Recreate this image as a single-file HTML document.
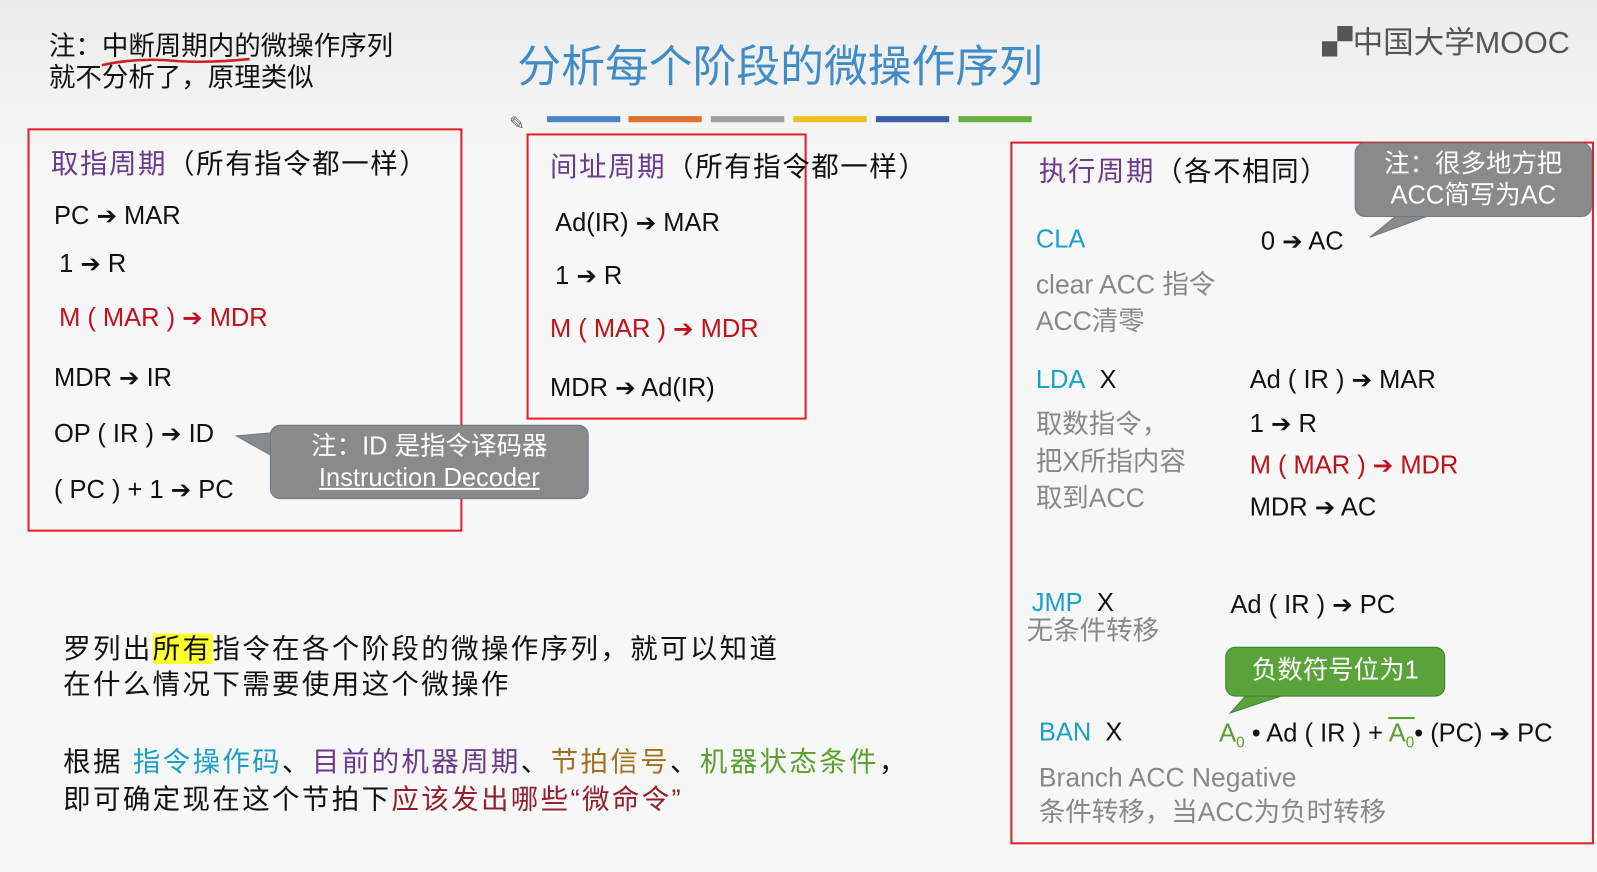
<!DOCTYPE html>
<html style="background:#f7f7f7"><head><meta charset="utf-8"><style>
body{margin:0;width:1597px;height:856px;overflow:hidden;background:linear-gradient(#ececec,#f7f7f7 20%,#f7f7f7);font-family:"Liberation Sans","Noto Sans CJK SC",sans-serif;position:relative;color:#111}
#w{position:absolute;left:0;top:0;width:1568px;height:840px;transform:scale(1.0185);transform-origin:0 0}
.a{position:absolute;white-space:nowrap;font-size:25px;line-height:1}
.box{position:absolute;border:2px solid #e0202a}
.red{color:#c0101a}.pur{color:#6a3a8c}.cy{color:#1aa0c8}.gr{color:#888}.grn{color:#5aa030}
.bar{position:absolute;top:114px;height:6px;width:72px}
.call{position:absolute;border-radius:10px;color:#fff;text-align:center;font-size:25px;line-height:31px}
.ar{font-family:"DejaVu Sans",sans-serif;font-size:24px}
.h{font-size:27px;letter-spacing:1.5px}
.b{font-size:27px;letter-spacing:2.3px}
</style></head><body><div id="w">
<div class="a" style="left:48px;top:32px;font-size:26px">注：中断周期内的微操作序列</div>
<div class="a" style="left:48px;top:63px;font-size:26px">就不分析了，原理类似</div>
<svg style="position:absolute;left:95px;top:52px" width="160" height="20"><path d="M5 12 Q40 4 80 8 Q110 10 150 6" stroke="#d02020" stroke-width="2.5" fill="none"/></svg>
<div class="a" style="left:508px;top:45px;font-size:43px;color:#3f8cc6">分析每个阶段的微操作序列</div>
<div class="a" style="left:1298px;top:28px;font-size:30px;color:#555">▞中国大学MOOC</div>
<div class="bar" style="left:537px;background:#4a86c6"></div>
<div class="bar" style="left:617px;background:#e07030"></div>
<div class="bar" style="left:698px;background:#a0a0a0"></div>
<div class="bar" style="left:779px;background:#f0c020"></div>
<div class="bar" style="left:860px;background:#3a5eaa"></div>
<div class="bar" style="left:941px;background:#6ab040"></div>
<div class="a" style="left:500px;top:112px;font-size:18px;color:#666">✎</div>

<div class="box" style="left:27px;top:126px;width:423px;height:392px"></div>
<div class="a h" style="left:50px;top:148px"><span class="pur">取指周期</span>（所有指令都一样）</div>
<div class="a" style="left:53px;top:200px">PC <span class="ar">➔</span> MAR</div>
<div class="a" style="left:58px;top:247px">1 <span class="ar">➔</span> R</div>
<div class="a red" style="left:58px;top:300px">M ( MAR ) <span class="ar">➔</span> MDR</div>
<div class="a" style="left:53px;top:359px">MDR <span class="ar">➔</span> IR</div>
<div class="a" style="left:53px;top:414px">OP ( IR ) <span class="ar">➔</span> ID</div>
<div class="a" style="left:53px;top:469px">( PC ) + 1 <span class="ar">➔</span> PC</div>

<div class="box" style="left:517px;top:131px;width:271px;height:277px"></div>
<div class="a h" style="left:540px;top:151px"><span class="pur">间址周期</span>（所有指令都一样）</div>
<div class="a" style="left:545px;top:207px">Ad(IR) <span class="ar">➔</span> MAR</div>
<div class="a" style="left:545px;top:259px">1 <span class="ar">➔</span> R</div>
<div class="a red" style="left:540px;top:311px">M ( MAR ) <span class="ar">➔</span> MDR</div>
<div class="a" style="left:540px;top:369px">MDR <span class="ar">➔</span> Ad(IR)</div>

<div class="box" style="left:992px;top:139px;width:569px;height:686px"></div>
<div class="a h" style="left:1020px;top:155px"><span class="pur">执行周期</span>（各不相同）</div>
<div class="a cy" style="left:1017px;top:223px">CLA</div>
<div class="a" style="left:1238px;top:225px">0 <span class="ar">➔</span> AC</div>
<div class="a gr" style="left:1017px;top:266px;font-size:26px">clear ACC 指令</div>
<div class="a gr" style="left:1017px;top:302px;font-size:26px">ACC清零</div>
<div class="a" style="left:1017px;top:361px"><span class="cy">LDA</span>&nbsp; X</div>
<div class="a" style="left:1227px;top:361px">Ad ( IR ) <span class="ar">➔</span> MAR</div>
<div class="a gr" style="left:1017px;top:403px;font-size:26px">取数指令，</div>
<div class="a" style="left:1227px;top:404px">1 <span class="ar">➔</span> R</div>
<div class="a gr" style="left:1017px;top:440px;font-size:26px">把X所指内容</div>
<div class="a red" style="left:1227px;top:445px">M ( MAR ) <span class="ar">➔</span> MDR</div>
<div class="a gr" style="left:1017px;top:476px;font-size:26px">取到ACC</div>
<div class="a" style="left:1227px;top:486px">MDR <span class="ar">➔</span> AC</div>
<div class="a" style="left:1013px;top:580px"><span class="cy">JMP</span>&nbsp; X</div>
<div class="a" style="left:1208px;top:582px">Ad ( IR ) <span class="ar">➔</span> PC</div>
<div class="a gr" style="left:1008px;top:606px;font-size:26px">无条件转移</div>
<div class="a" style="left:1020px;top:707px"><span class="cy">BAN</span>&nbsp; X</div>
<div class="a" style="left:1197px;top:708px"><span class="grn">A<sub style="font-size:15px">0</sub></span> • Ad ( IR ) + <span class="grn" style="border-top:2px solid #5aa030">A<sub style="font-size:15px">0</sub></span>• (PC) <span class="ar">➔</span> PC</div>
<div class="a gr" style="left:1020px;top:750px;font-size:26px">Branch ACC Negative</div>
<div class="a gr" style="left:1020px;top:784px;font-size:26px">条件转移，当ACC为负时转移</div>

<svg style="position:absolute;left:0;top:0" width="1597" height="856">
<path d="M266 425 L232 428 L266 447Z" fill="#8a8a8a" stroke="#6a7a8a"/>
<path d="M1372 211 L1345 233 L1405 211Z" fill="#8a8a8a" stroke="#6a7a8a"/>
<path d="M1226 680 L1208 700 L1268 680Z" fill="#5aa33a" stroke="#3f8030"/>
</svg>
<div class="call" style="left:265px;top:417px;width:313px;height:73px;background:#8a8a8a;border:1.5px solid #6a7a8a;padding-top:5px;box-sizing:border-box">注：ID 是指令译码器<br><u>Instruction Decoder</u></div>
<div class="call" style="left:1330px;top:140px;width:233px;height:73px;background:#8a8a8a;border:1.5px solid #6a7a8a;padding-top:5px;box-sizing:border-box;font-size:25px">注：很多地方把<br>ACC简写为AC</div>
<div class="call" style="left:1203px;top:635px;width:214px;height:47px;background:#5aa33a;border:1.5px solid #3f8030;line-height:45px;font-size:25px">负数符号位为1</div>

<div class="a b" style="left:62px;top:624px">罗列出<span style="background:#ffff30">所有</span>指令在各个阶段的微操作序列，就可以知道</div>
<div class="a b" style="left:62px;top:659px">在什么情况下需要使用这个微操作</div>
<div class="a b" style="left:62px;top:735px">根据 <span class="cy">指令操作码</span>、<span class="pur">目前的机器周期</span>、<span style="color:#a07020">节拍信号</span>、<span class="grn">机器状态条件</span>，</div>
<div class="a b" style="left:62px;top:772px">即可确定现在这个节拍下<span style="color:#902030">应该发出哪些“微命令”</span></div>
</div></body></html>
